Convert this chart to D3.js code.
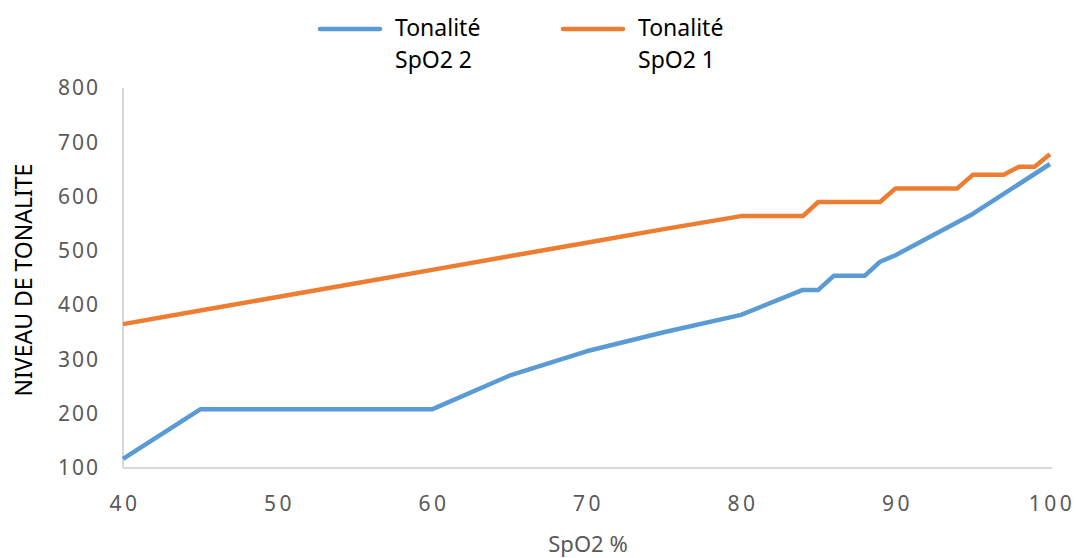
<!DOCTYPE html>
<html>
<head>
<meta charset="utf-8">
<script src="https://cdn.jsdelivr.net/npm/d3@7"></script>
<style>
  body { margin: 0; background: #fff; }
  text { font-family: "Noto Sans", "Open Sans", sans-serif; }
</style>
</head>
<body>
<div id="chart"></div>
<script>
// SpO2 2 (blue)
let spo2x2 = [40, 45, 60, 65, 70, 75, 80, 84, 85, 86, 88, 89, 90, 95, 100];
let tone2  = [117, 208, 208, 270, 315, 350, 382, 428, 428, 454, 454, 480, 492, 568, 660];
// SpO2 1 (orange)
let spo2x1 = [40, 45, 50, 55, 60, 65, 70, 75, 80, 84, 85, 89, 90, 94, 95, 97, 98, 99, 100];
let tone1  = [365, 390, 415, 440, 465, 490, 515, 540, 564, 564, 590, 590, 615, 615, 640, 640, 655, 655, 678];
let xTicks = [40, 50, 60, 70, 80, 90, 100];
let yTicks = [100, 200, 300, 400, 500, 600, 700, 800];
let seriesNames = ['Tonalité\nSpO2 2', 'Tonalité\nSpO2 1'];
let colors = ['#5B9BD5', '#ED7D31'];

(function() {
  let svg = d3.select('#chart')
    .append('svg')
    .attr('width', 1078)
    .attr('height', 558);

  let x = d3.scaleLinear().domain([40, 100]).range([123, 1050]);
  let y = d3.scaleLinear().domain([100, 800]).range([468, 88]);

  // axis lines
  svg.append('line')
    .attr('x1', x(40)).attr('x2', x(40))
    .attr('y1', y(800)).attr('y2', y(100))
    .attr('stroke', '#d9d9d9').attr('stroke-width', 2);
  svg.append('line')
    .attr('x1', x(40)).attr('x2', x(100) + 2)
    .attr('y1', y(100)).attr('y2', y(100))
    .attr('stroke', '#d9d9d9').attr('stroke-width', 2);

  // tick labels
  svg.selectAll('.ytick').data(yTicks).enter()
    .append('text')
    .attr('class', 'ytick')
    .attr('x', 100)
    .attr('y', d => y(d))
    .attr('dy', '0.35em')
    .attr('text-anchor', 'end')
    .attr('fill', '#595959')
    .attr('font-size', 21)
    .attr('letter-spacing', 2)
    .text(d => d);

  svg.selectAll('.xtick').data(xTicks).enter()
    .append('text')
    .attr('class', 'xtick')
    .attr('x', d => x(d) + 2)
    .attr('y', 504)
    .attr('dy', '0.35em')
    .attr('text-anchor', 'middle')
    .attr('fill', '#595959')
    .attr('font-size', 21)
    .attr('letter-spacing', 3.5)
    .text(d => d);

  // axis titles
  svg.append('text')
    .attr('x', 588).attr('y', 544)
    .attr('dy', '0.35em')
    .attr('text-anchor', 'middle')
    .attr('fill', '#595959')
    .attr('font-size', 22)
    .text('SpO2 %');
  svg.append('text')
    .attr('transform', 'translate(24,280) rotate(-90)')
    .attr('dy', '0.35em')
    .attr('text-anchor', 'middle')
    .attr('fill', '#000')
    .attr('font-size', 23)
    .text('NIVEAU DE TONALITE');

  // lines
  let line = d3.line()
    .x(d => x(d[0]))
    .y(d => y(d[1]));
  let data2 = spo2x2.map((v, i) => [v, tone2[i]]);
  let data1 = spo2x1.map((v, i) => [v, tone1[i]]);

  [data2, data1].forEach((data, i) => {
    svg.append('path')
      .datum(data)
      .attr('fill', 'none')
      .attr('stroke', colors[i])
      .attr('stroke-width', 4.5)
      .attr('stroke-linejoin', 'round')
      .attr('d', line);
  });

  // legend
  let legX = [320, 563];
  seriesNames.forEach((name, i) => {
    let g = svg.append('g').attr('transform', `translate(${legX[i]},29)`);
    g.append('line')
      .attr('x1', 0).attr('x2', 60)
      .attr('stroke', colors[i])
      .attr('stroke-width', 4.5)
      .attr('stroke-linecap', 'round');
    name.split('\n').forEach((t, j) => {
      g.append('text')
        .attr('x', 75)
        .attr('y', 7 + j * 32)
        .attr('fill', '#000')
        .attr('font-size', 23)
        .text(t);
    });
  });
})();
</script>
</body>
</html>
